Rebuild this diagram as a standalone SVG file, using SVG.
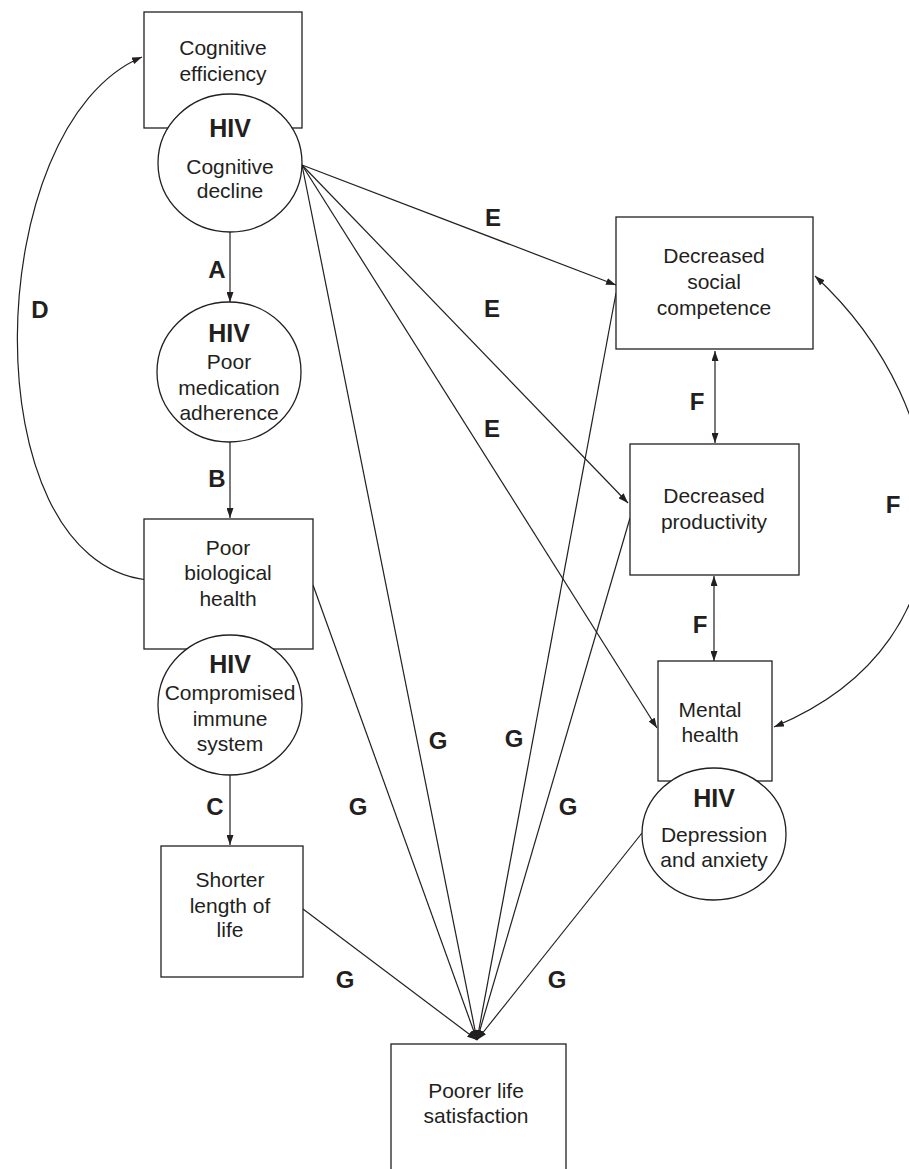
<svg xmlns="http://www.w3.org/2000/svg" width="909" height="1169" viewBox="0 0 909 1169">
<defs>
<marker id="ah" viewBox="0 0 10 7" refX="10" refY="3.5" markerWidth="10" markerHeight="7" markerUnits="userSpaceOnUse" orient="auto-start-reverse">
<path d="M0,0 L10,3.5 L0,7 Z" fill="#231f20"/>
</marker>
<style>
.box{fill:#fff;stroke:#231f20;stroke-width:1.3}
.circ{fill:#fff;stroke:#231f20;stroke-width:1.3}
.t{font-family:"Liberation Sans",Arial,sans-serif;font-size:21px;fill:#231f20;text-anchor:middle}
.h{font-family:"Liberation Sans",Arial,sans-serif;font-size:25px;font-weight:bold;fill:#231f20;text-anchor:middle}
.l{font-family:"Liberation Sans",Arial,sans-serif;font-size:24px;font-weight:bold;fill:#231f20;text-anchor:middle}
.c{fill:none;stroke:#231f20;stroke-width:1.2}
</style>
</defs>
<rect width="909" height="1169" fill="#fff"/>

<g id="connectors">
<line class="c" x1="230" y1="232" x2="230" y2="302" marker-end="url(#ah)"/>
<line class="c" x1="230" y1="442" x2="230" y2="518" marker-end="url(#ah)"/>
<line class="c" x1="230" y1="775" x2="230" y2="845" marker-end="url(#ah)"/>
<path class="c" d="M147,580 C-30,560 -20,125 142,57" marker-end="url(#ah)"/>
<line class="c" x1="302" y1="165" x2="616" y2="285" marker-end="url(#ah)"/>
<line class="c" x1="302" y1="165" x2="628" y2="503" marker-end="url(#ah)"/>
<line class="c" x1="302" y1="165" x2="657" y2="728" marker-end="url(#ah)"/>
<line class="c" x1="715" y1="351" x2="715" y2="443" marker-start="url(#ah)" marker-end="url(#ah)"/>
<line class="c" x1="714" y1="576" x2="714" y2="661" marker-start="url(#ah)" marker-end="url(#ah)"/>
<path class="c" d="M815,276 C960,410 985,640 774,727" marker-start="url(#ah)" marker-end="url(#ah)"/>
<line class="c" x1="302" y1="165" x2="477" y2="1040" marker-end="url(#ah)"/>
<line class="c" x1="313" y1="585" x2="477" y2="1040" marker-end="url(#ah)"/>
<line class="c" x1="303" y1="909" x2="477" y2="1040" marker-end="url(#ah)"/>
<line class="c" x1="616" y1="293" x2="477" y2="1040" marker-end="url(#ah)"/>
<line class="c" x1="630" y1="518" x2="477" y2="1040" marker-end="url(#ah)"/>
<line class="c" x1="642" y1="833" x2="477" y2="1040" marker-end="url(#ah)"/>
</g>

<g id="labels">
<text class="l" x="217" y="278">A</text>
<text class="l" x="217" y="487">B</text>
<text class="l" x="215" y="815">C</text>
<text class="l" x="40" y="318">D</text>
<text class="l" x="493" y="226">E</text>
<text class="l" x="492" y="317">E</text>
<text class="l" x="492" y="437">E</text>
<text class="l" x="697" y="410">F</text>
<text class="l" x="700" y="633">F</text>
<text class="l" x="893" y="513">F</text>
<text class="l" x="438" y="749">G</text>
<text class="l" x="514" y="747">G</text>
<text class="l" x="358" y="815">G</text>
<text class="l" x="568" y="815">G</text>
<text class="l" x="345" y="988">G</text>
<text class="l" x="557" y="988">G</text>
</g>

<g id="cognitive-efficiency">
<rect class="box" x="144" y="12" width="158" height="116"/>
<text class="t" x="223" y="55">Cognitive</text>
<text class="t" x="223" y="81">efficiency</text>
</g>
<g id="cognitive-decline">
<ellipse class="circ" cx="230" cy="163" rx="72" ry="69"/>
<text class="h" x="230" y="137">HIV</text>
<text class="t" x="230" y="174">Cognitive</text>
<text class="t" x="230" y="198">decline</text>
</g>
<g id="medication-adherence">
<ellipse class="circ" cx="229" cy="372" rx="72" ry="70"/>
<text class="h" x="229" y="342">HIV</text>
<text class="t" x="229" y="369">Poor</text>
<text class="t" x="229" y="395">medication</text>
<text class="t" x="229" y="420">adherence</text>
</g>
<g id="biological-health">
<rect class="box" x="144" y="519" width="169" height="130"/>
<text class="t" x="228" y="555">Poor</text>
<text class="t" x="228" y="580">biological</text>
<text class="t" x="228" y="606">health</text>
</g>
<g id="immune-system">
<ellipse class="circ" cx="230" cy="705" rx="72" ry="70"/>
<text class="h" x="230" y="673">HIV</text>
<text class="t" x="230" y="700">Compromised</text>
<text class="t" x="230" y="726">immune</text>
<text class="t" x="230" y="751">system</text>
</g>
<g id="shorter-life">
<rect class="box" x="161" y="846" width="142" height="131"/>
<text class="t" x="230" y="887">Shorter</text>
<text class="t" x="230" y="913">length of</text>
<text class="t" x="230" y="937">life</text>
</g>
<g id="life-satisfaction">
<rect class="box" x="391" y="1044" width="175" height="140"/>
<text class="t" x="476" y="1098">Poorer life</text>
<text class="t" x="476" y="1123">satisfaction</text>
</g>
<g id="social-competence">
<rect class="box" x="616" y="217" width="197" height="132"/>
<text class="t" x="714" y="263">Decreased</text>
<text class="t" x="714" y="289">social</text>
<text class="t" x="714" y="315">competence</text>
</g>
<g id="productivity">
<rect class="box" x="630" y="444" width="169" height="131"/>
<text class="t" x="714" y="503">Decreased</text>
<text class="t" x="714" y="529">productivity</text>
</g>
<g id="mental-health">
<rect class="box" x="658" y="661" width="114" height="120"/>
<text class="t" x="710" y="717">Mental</text>
<text class="t" x="710" y="742">health</text>
</g>
<g id="depression-anxiety">
<ellipse class="circ" cx="714" cy="834" rx="72" ry="66"/>
<text class="h" x="714" y="807">HIV</text>
<text class="t" x="714" y="842">Depression</text>
<text class="t" x="714" y="867">and anxiety</text>
</g>
</svg>
